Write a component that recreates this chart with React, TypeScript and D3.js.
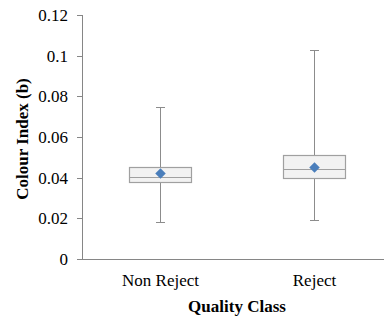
import React from "react";
import * as d3 from "d3";

// quality classes and their box statistics
const categories = ["Non Reject", "Reject"];
const whiskerMin = [0.018, 0.019];
const q1 = [0.038, 0.04];
const median = [0.0403, 0.0443];
const q3 = [0.0453, 0.0512];
const whiskerMax = [0.075, 0.103];
const mean = [0.042, 0.045];
const yTicks = [0, 0.02, 0.04, 0.06, 0.08, 0.1, 0.12];

const W = 384;
const H = 320;
const axisGray = "#868686";
const font = "'Liberation Serif', 'Times New Roman', serif";

export default function App() {
  const x = d3.scaleBand<string>().domain(categories).range([83, 391]);
  const y = d3.scaleLinear().domain([0, 0.12]).range([259, 15]);
  const boxW = 62;
  const capW = 9;
  const diamond = d3.symbol().type(d3.symbolDiamond2).size(70)();

  return (
    <svg width={W} height={H} style={{ position: "absolute", left: 0, top: 0 }} fontFamily={font}>
      {/* y axis */}
      <line x1={82.5} x2={82.5} y1={y(0.12)} y2={y(0)} stroke={axisGray} />
      {yTicks.map((t) => (
        <g key={t} transform={`translate(0,${Math.round(y(t)) + 0.5})`}>
          <line x1={77} x2={82} stroke={axisGray} />
          <text x={68} dy="0.33em" textAnchor="end" fontSize={17} fill="#000">
            {d3.format("")(t)}
          </text>
        </g>
      ))}
      {/* x axis */}
      <line x1={77} x2={391} y1={Math.round(y(0)) + 0.5} y2={Math.round(y(0)) + 0.5} stroke={axisGray} />
      {categories.map((c, i) => {
        const cx = Math.round(x(c)! + x.bandwidth() / 2) + 0.5;
        const r = (v: number) => Math.round(y(v)) + 0.5;
        return (
          <g key={c}>
            <line x1={cx} x2={cx} y1={r(whiskerMax[i])} y2={r(q3[i])} stroke="#8c8c8c" />
            <line x1={cx} x2={cx} y1={r(q1[i])} y2={r(whiskerMin[i])} stroke="#8c8c8c" />
            <line x1={cx - capW / 2} x2={cx + capW / 2} y1={r(whiskerMax[i])} y2={r(whiskerMax[i])} stroke="#8c8c8c" />
            <line x1={cx - capW / 2} x2={cx + capW / 2} y1={r(whiskerMin[i])} y2={r(whiskerMin[i])} stroke="#8c8c8c" />
            <rect
              x={cx - boxW / 2}
              y={r(q3[i])}
              width={boxW}
              height={r(q1[i]) - r(q3[i])}
              fill="#f2f2f2"
              stroke="#a0a0a0"
              strokeWidth={1.2}
            />
            <line x1={cx - boxW / 2} x2={cx + boxW / 2} y1={r(median[i])} y2={r(median[i])} stroke="#a0a0a0" strokeWidth={1.2} />
            <path d={diamond!} transform={`translate(${cx},${y(mean[i])})`} fill="#4a7ebb" />
            <text x={cx} y={286} textAnchor="middle" fontSize={17} fill="#000">
              {c}
            </text>
          </g>
        );
      })}
      <text x={237} y={312} textAnchor="middle" fontSize={17} fontWeight="bold" fill="#000">
        Quality Class
      </text>
      <text
        transform="translate(27.5,139) rotate(-90)"
        textAnchor="middle"
        fontSize={17}
        fontWeight="bold"
        fill="#000"
      >
        Colour Index (b)
      </text>
    </svg>
  );
}
